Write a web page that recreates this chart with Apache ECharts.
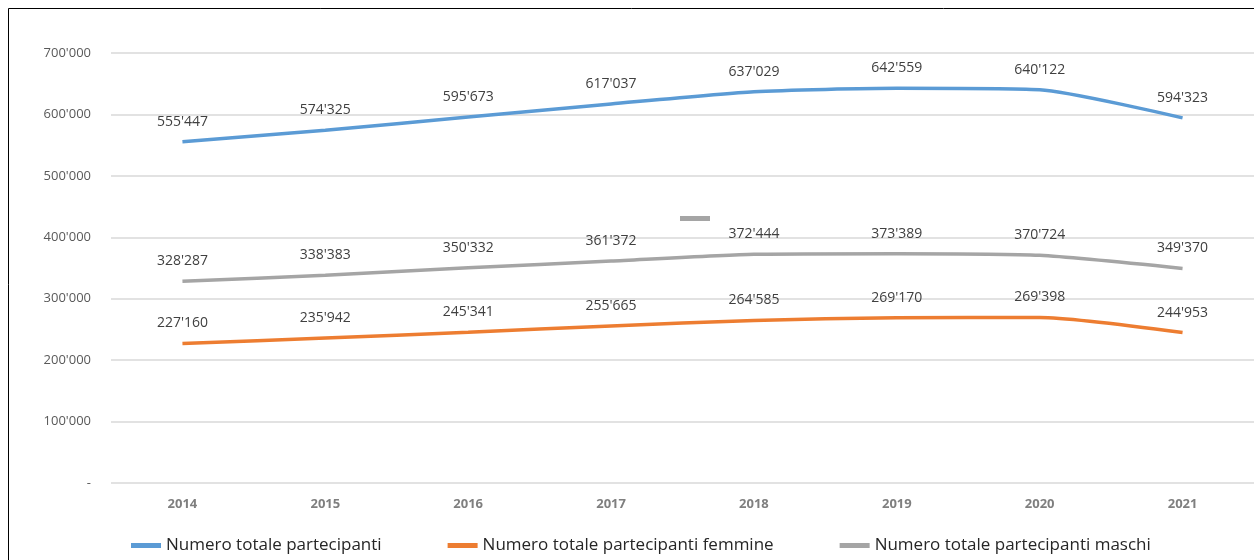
<!DOCTYPE html>
<html>
<head>
<meta charset="utf-8">
<script src="https://cdn.jsdelivr.net/npm/echarts@6/dist/echarts.min.js"></script>
<style>
  html, body { margin: 0; padding: 0; background: #fff; }
  #main { width: 1254px; height: 560px; }
</style>
</head>
<body>
<div id="main"></div>
<script>
var years = ['2014', '2015', '2016', '2017', '2018', '2019', '2020', '2021'];
var totale = [555447, 574325, 595673, 617037, 637029, 642559, 640122, 594323];
var femmine = [227160, 235942, 245341, 255665, 264585, 269170, 269398, 244953];
var maschi = [328287, 338383, 350332, 361372, 372444, 373389, 370724, 349370];
var seriesNames = ['Numero totale partecipanti', 'Numero totale partecipanti femmine', 'Numero totale partecipanti maschi'];
var colors = ['#5B9BD5', '#ED7D31', '#A5A5A5'];

function fmt(v) {
  if (v === 0) return '-';
  return String(v).replace(/\B(?=(\d{3})+(?!\d))/g, "'");
}

function makeSeries(name, data, color) {
  return {
    name: name,
    type: 'line',
    data: data,
    smooth: 0.2,
    symbol: 'circle',
    symbolSize: 0,
    showSymbol: true,
    lineStyle: { color: color, width: 3.5 },
    itemStyle: { color: color },
    label: {
      show: true,
      position: 'top',
      distance: 13,
      color: '#404040',
      fontSize: 14,
      fontFamily: 'Open Sans',
      formatter: function (p) { return fmt(p.value); }
    }
  };
}

var chart = echarts.init(document.getElementById('main'));
chart.setOption({
  animation: false,
  color: colors,
  grid: { left: 111, right: 0, top: 53, bottom: 77, containLabel: false },
  xAxis: {
    type: 'category',
    data: years,
    boundaryGap: true,
    axisLine: { show: false },
    axisTick: { show: false },
    axisLabel: { color: '#7f7f7f', fontSize: 13, fontWeight: 'bold', fontFamily: 'Open Sans', margin: 15 }
  },
  yAxis: {
    type: 'value',
    min: 0,
    max: 700000,
    interval: 100000,
    axisLine: { show: false },
    axisTick: { show: false },
    splitLine: { lineStyle: { color: '#d9d9d9', width: 1.5 } },
    axisLabel: { color: '#595959', fontSize: 13, fontFamily: 'Open Sans', margin: 20, formatter: fmt }
  },
  legend: {
    bottom: 6,
    left: 131,
    padding: 0,
    icon: 'rect',
    itemWidth: 30,
    itemHeight: 5,
    itemGap: 66,
    textStyle: { color: '#262626', fontSize: 17, fontFamily: 'Open Sans' },
    data: seriesNames
  },
  graphic: [
    { type: 'rect', shape: { x: 8.5, y: 8.5, width: 1300, height: 600 }, style: { fill: 'none', stroke: '#000', lineWidth: 1 }, silent: true },
    { type: 'rect', shape: { x: 680, y: 216, width: 30, height: 5 }, style: { fill: '#A5A5A5' }, silent: true }
  ],
  series: [
    makeSeries(seriesNames[0], totale, colors[0]),
    makeSeries(seriesNames[1], femmine, colors[1]),
    makeSeries(seriesNames[2], maschi, colors[2])
  ]
});
</script>
</body>
</html>
